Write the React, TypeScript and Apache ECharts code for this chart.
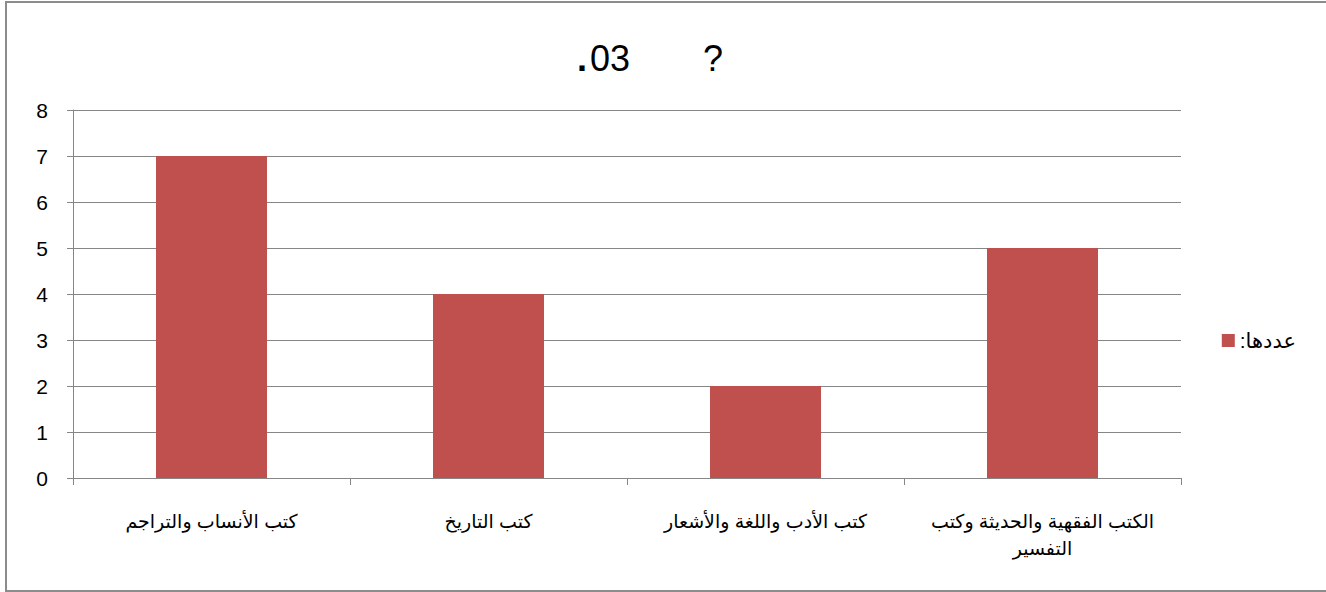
import React, { useEffect, useRef } from "react";
import * as echarts from "echarts";

const categories = [
  "كتب الأنساب والتراجم",
  "كتب التاريخ",
  "كتب الأدب واللغة والأشعار",
  "الكتب الفقهية والحديثة وكتب\nالتفسير",
];
const values = [7, 4, 2, 5];
const seriesName = "عددها:\u200F";
const titleDot = "\u200E.";
const titleText = "03";
const titleMark = "?";
const yTicks = { min: 0, max: 8, interval: 1 };

const FONT = "'Liberation Sans', Arial, 'DejaVu Sans', sans-serif";
const GRID_COLOR = "#868686";

export default function App() {
  const ref = useRef<HTMLDivElement>(null);
  useEffect(() => {
    document.body.style.margin = "0";
    const chart = echarts.init(ref.current!, null, { renderer: "svg" });
    chart.setOption({
      animation: false,
      backgroundColor: "#ffffff",
      textStyle: { fontFamily: FONT },
      graphic: [
        {
          type: "rect",
          shape: { x: 6, y: 2, width: 1340, height: 589 },
          style: { fill: "none", stroke: "#8c8c8c", lineWidth: 2 },
          silent: true,
        },
        {
          type: "text",
          x: 577,
          y: 58,
          style: {
            text: titleDot,
            font: `bold 36px ${FONT}`,
            fill: "#000",
            verticalAlign: "middle",
            align: "left",
          },
        },
        {
          type: "text",
          x: 590,
          y: 58,
          style: {
            text: titleText,
            font: `36px ${FONT}`,
            fill: "#000",
            verticalAlign: "middle",
            align: "left",
          },
        },
        {
          type: "text",
          x: 703,
          y: 58,
          style: {
            text: titleMark,
            font: `36px ${FONT}`,
            fill: "#000",
            verticalAlign: "middle",
            align: "left",
          },
        },
      ],
      legend: {
        show: true,
        right: 25,
        top: 325,
        itemWidth: 13,
        itemHeight: 13,
        itemGap: 6,
        icon: "rect",
        textStyle: { fontSize: 21, color: "#000", fontFamily: FONT },
        data: [seriesName],
      },
      grid: { left: 73, right: 145, top: 110, bottom: 114, containLabel: false },
      xAxis: {
        type: "category",
        data: categories,
        axisLine: { lineStyle: { color: GRID_COLOR, width: 1 } },
        axisTick: { show: true, length: 7, lineStyle: { color: GRID_COLOR } },
        axisLabel: {
          color: "#000",
          fontSize: 19,
          fontFamily: FONT,
          margin: 30,
          interval: 0,
          lineHeight: 27,
          align: "center",
          verticalAlign: "top",
        },
      },
      yAxis: {
        type: "value",
        min: yTicks.min,
        max: yTicks.max,
        interval: yTicks.interval,
        axisLine: { show: true, lineStyle: { color: GRID_COLOR, width: 1 } },
        axisTick: { show: true, length: 6, lineStyle: { color: GRID_COLOR } },
        splitLine: { show: true, lineStyle: { color: GRID_COLOR, width: 1 } },
        axisLabel: { color: "#000", fontSize: 21, fontFamily: FONT, margin: 25 },
      },
      series: [
        {
          name: seriesName,
          type: "bar",
          data: values,
          barWidth: 111,
          itemStyle: { color: "#C0504D" },
        },
      ],
    });
    return () => chart.dispose();
  }, []);
  return <div ref={ref} style={{ width: 1326, height: 592 }} />;
}
